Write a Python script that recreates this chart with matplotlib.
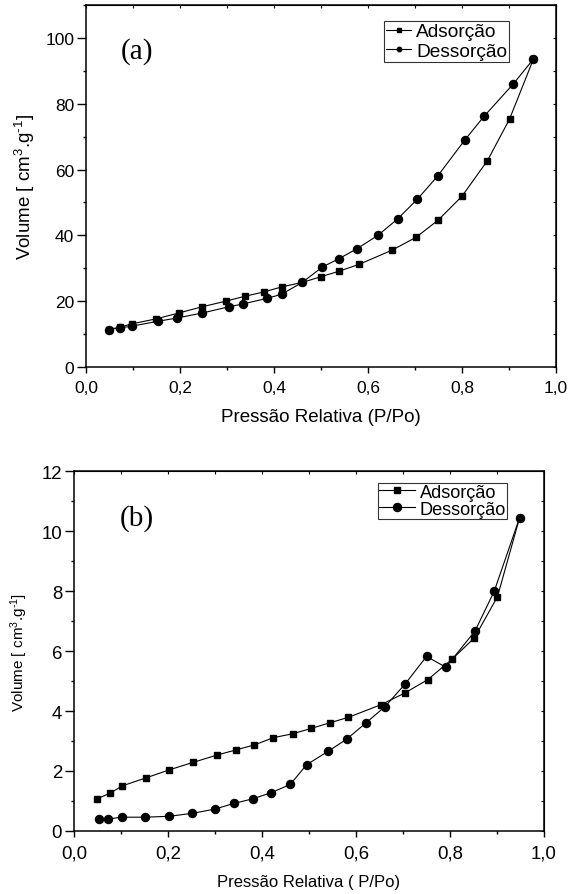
import matplotlib.pyplot as plt
from matplotlib.ticker import MultipleLocator, FuncFormatter

# (a) isotherm
a_ads_x = [0.048, 0.072, 0.097, 0.148, 0.197, 0.247, 0.297, 0.338, 0.378, 0.418, 0.460,
           0.499, 0.538, 0.581, 0.651, 0.702, 0.749, 0.800, 0.854, 0.901, 0.952]
a_ads_y = [11.4, 12.1, 13.1, 14.6, 16.4, 18.3, 20.0, 21.5, 22.8, 24.4, 25.7,
           27.4, 29.1, 31.2, 35.5, 39.4, 44.6, 51.9, 62.7, 75.3, 93.6]
a_des_x = [0.048, 0.072, 0.097, 0.153, 0.194, 0.247, 0.304, 0.335, 0.386, 0.416, 0.460,
           0.503, 0.538, 0.577, 0.621, 0.663, 0.705, 0.748, 0.806, 0.847, 0.909, 0.952]
a_des_y = [11.4, 11.9, 12.4, 13.9, 14.9, 16.4, 18.3, 19.2, 20.9, 22.1, 25.7,
           30.4, 32.9, 36.0, 40.0, 45.0, 51.0, 58.0, 69.0, 76.2, 86.0, 93.6]

# (b) isotherm
b_ads_x = [0.050, 0.077, 0.102, 0.153, 0.203, 0.254, 0.304, 0.344, 0.384, 0.424, 0.465,
           0.505, 0.545, 0.584, 0.653, 0.704, 0.753, 0.804, 0.852, 0.901, 0.948]
b_ads_y = [1.08, 1.26, 1.50, 1.77, 2.04, 2.29, 2.53, 2.70, 2.87, 3.11, 3.24,
           3.42, 3.61, 3.79, 4.21, 4.60, 5.05, 5.72, 6.44, 7.81, 10.44]
b_des_x = [0.054, 0.072, 0.102, 0.151, 0.203, 0.252, 0.300, 0.340, 0.380, 0.420, 0.460,
           0.495, 0.540, 0.580, 0.621, 0.662, 0.704, 0.750, 0.791, 0.853, 0.894, 0.948]
b_des_y = [0.41, 0.40, 0.46, 0.46, 0.49, 0.59, 0.73, 0.92, 1.07, 1.28, 1.55,
           2.21, 2.65, 3.06, 3.60, 4.15, 4.89, 5.82, 5.46, 6.66, 7.99, 10.44]

plt.rcParams['font.family'] = ['Liberation Sans', 'DejaVu Sans']
plt.rcParams['mathtext.fontset'] = 'custom'
plt.rcParams['mathtext.rm'] = 'Liberation Sans'
plt.rcParams['mathtext.default'] = 'regular'

ylab = r'Volume [ cm$^{3}$.g$^{\text{-1}}$]'

fig = plt.figure(figsize=(5.7, 8.95), dpi=100)
ax1 = fig.add_axes([0.1509, 0.5888, 0.8246, 0.4045])
ax2 = fig.add_axes([0.1298, 0.0704, 0.8246, 0.4022])

comma = FuncFormatter(lambda v, p: f"{v:.1f}".replace('.', ','))


def style(ax, ymax, ymaj, ymin, fs):
    ax.set_xlim(0, 1.0)
    ax.set_ylim(0, ymax)
    ax.xaxis.set_major_locator(MultipleLocator(0.2))
    ax.xaxis.set_minor_locator(MultipleLocator(0.1))
    ax.yaxis.set_major_locator(MultipleLocator(ymaj))
    ax.yaxis.set_minor_locator(MultipleLocator(ymin))
    ax.xaxis.set_major_formatter(comma)
    ax.tick_params(which='both', direction='out', top=False, right=False, labelsize=fs, width=1.0)
    ax.tick_params(axis='x', which='major', length=4.5, pad=5)
    ax.tick_params(axis='y', which='major', length=6.5, pad=2)
    ax.tick_params(which='minor', length=2.5)
    for s in ax.spines.values():
        s.set_linewidth(1.1)
    sec_x = ax.secondary_xaxis('top')
    sec_x.xaxis.set_major_locator(MultipleLocator(0.1))
    sec_x.tick_params(which='both', direction='in', labeltop=False, length=2.5, width=0.8)
    sec_y = ax.secondary_yaxis('right')
    sec_y.yaxis.set_major_locator(MultipleLocator(ymin))
    sec_y.tick_params(which='both', direction='in', labelright=False, length=2.5, width=0.8)


ax1.plot(a_ads_x, a_ads_y, '-s', color='black', lw=0.8, ms=5, label='Adsorção')
ax1.plot(a_des_x, a_des_y, '-o', color='black', lw=0.8, ms=5.8, label='Dessorção')
style(ax1, 110, 20, 10, 12.5)
ax1.set_xlabel('Pressão Relativa (P/Po)', fontsize=13.5, labelpad=9)
ax1.set_ylabel(ylab, fontsize=13.5, labelpad=6)
ax1.text(0.1085, 0.873, '(a)', transform=ax1.transAxes, fontsize=21, ha='center', va='center',
         family='Liberation Serif')
leg = ax1.legend(loc='upper right', bbox_to_anchor=(0.9, 0.956), fontsize=13.8, frameon=True,
                 fancybox=False, edgecolor='black', handlelength=1.3, handletextpad=0.25,
                 borderpad=0.1, labelspacing=0.1, borderaxespad=0, markerscale=0.55)
leg.get_frame().set_linewidth(0.8)

ax2.plot(b_ads_x, b_ads_y, '-s', color='black', lw=0.8, ms=5, label='Adsorção')
ax2.plot(b_des_x, b_des_y, '-o', color='black', lw=0.8, ms=5.8, label='Dessorção')
style(ax2, 12, 2, 1, 13.4)
ax2.set_xlabel('Pressão Relativa ( P/Po)', fontsize=12, labelpad=9)
ax2.set_ylabel(ylab, fontsize=11, labelpad=8)
ax2.text(0.134, 0.872, '(b)', transform=ax2.transAxes, fontsize=21, ha='center', va='center',
         family='Liberation Serif')
leg = ax2.legend(loc='upper right', bbox_to_anchor=(0.921, 0.967), fontsize=13.1, frameon=True,
                 fancybox=False, edgecolor='black', handlelength=2.0, handletextpad=0.25,
                 borderpad=0.05, labelspacing=0.0, borderaxespad=0)
leg.get_frame().set_linewidth(0.8)

fig.savefig('out.png', dpi=100)
